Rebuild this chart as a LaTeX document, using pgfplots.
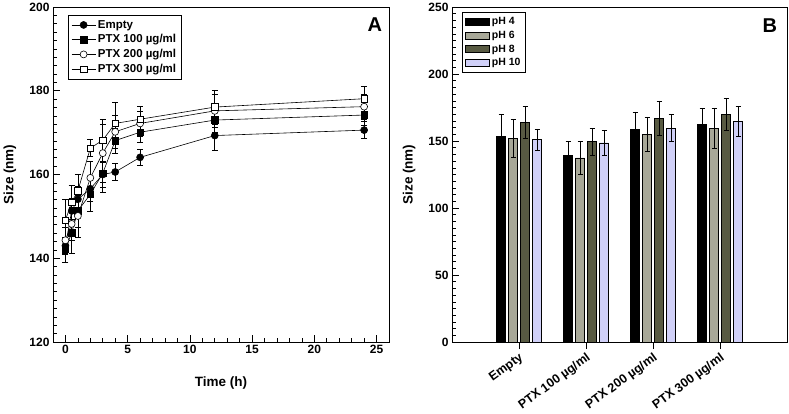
\documentclass[border=0pt]{standalone}
\usepackage{fontspec}
\setmainfont{Liberation Sans}
\usepackage{pgfplots}
\usepackage{pgfplotstable}
\pgfplotsset{compat=1.18}
\definecolor{phsix}{RGB}{168,168,152}
\definecolor{pheight}{RGB}{88,90,66}
\definecolor{phten}{RGB}{208,208,248}

\pgfplotstableread{
t y e
0 143.0 2
0.5 151.3 3
1 154.1 3
2 156.6 3
3 160.0 3
4 160.6 2
6 164.1 2
12 169.3 3.5
24 170.6 2
}\empty
\pgfplotstableread{
t y e
0 142.1 3
0.5 146.1 5
1 151.3 4
2 155.3 4
3 160.3 4.5
4 168.1 3
6 170.1 2.5
12 173.0 3
24 174.2 2.5
}\ptxa
\pgfplotstableread{
t y e
0 144.3 3
0.5 148.2 4
1 150.1 5
2 159.2 4
3 165.1 7
4 170.2 4
6 172.2 3
12 175.2 4
24 176.2 3
}\ptxb
\pgfplotstableread{
t y e
0 149.1 5
0.5 153.4 4
1 156.1 4
2 166.3 2
3 168.2 5
4 172.2 5
6 173.2 3
12 176.1 4
24 178.1 3
}\ptxc

\pgfplotstableread{
x y e
1 153.7 16.4
2 139.5 10
3 158.7 13
4 162.6 12
}\phfour
\pgfplotstableread{
x y e
1 152.0 14
2 137.5 12
3 155.0 13
4 159.7 15
}\phsixt
\pgfplotstableread{
x y e
1 164.0 12
2 149.7 10
3 166.9 13
4 169.9 12
}\pheightt
\pgfplotstableread{
x y e
1 151.0 8
2 148.7 9
3 159.7 10
4 164.6 11
}\phtent

\begin{document}
\begin{tikzpicture}[x=1pt,y=1pt]
\useasboundingbox (0,0) rectangle (789,413);
\begin{axis}[at={(53pt,71pt)}, anchor=south west, scale only axis,
  width=336pt, height=335pt,
  xmin=-1, xmax=26, ymin=120, ymax=200,
  xtick={0,5,...,25}, ytick={120,140,...,200},
  minor x tick num=4, minor y tick num=9,
  tick align=inside, xtick pos=bottom, ytick pos=left,
  major tick length=7pt, minor tick length=4pt,
  tick style={black, line width=0.6pt},
  ticklabel style={font=\bfseries\fontsize{12}{12}\selectfont},
  /pgf/number format/assume math mode=true,
  xlabel={Time (h)}, ylabel={Size (nm)},
  label style={font=\bfseries\fontsize{13.5}{13.5}\selectfont},
  xlabel style={at={(axis description cs:0.5,-0.122)}, anchor=center},
  ylabel style={at={(axis description cs:-0.128,0.5)}, anchor=center},
  axis line style={black, line width=0.7pt},
  legend style={at={(axis description cs:0.045,0.976)}, anchor=north west,
    font=\bfseries\fontsize{11.5}{16}\selectfont, draw=black, inner sep=3pt,
    row sep=1pt},
  legend cell align=left,
  legend image code/.code={%
    \draw[#1, mark=none] (0pt,0pt) -- (24pt,0pt);
    \draw[#1, only marks] plot coordinates {(12pt,0pt)};},
  every axis plot/.append style={black, line width=0.6pt},
  error bars/error bar style={black, line width=0.6pt},
  error bars/error mark options={rotate=90, mark size=3pt, black, line width=0.6pt},
]
\addplot[mark=*, mark size=3.5pt, mark options={fill=black},
  error bars/.cd, y dir=both, y explicit]
  table[x=t, y=y, y error=e] {\empty};
\addlegendentry{Empty}
\addplot[mark=square*, mark size=3.3pt, mark options={fill=black},
  error bars/.cd, y dir=both, y explicit]
  table[x=t, y=y, y error=e] {\ptxa};
\addlegendentry{PTX 100 µg/ml}
\addplot[mark=*, mark size=3.5pt, mark options={fill=white},
  error bars/.cd, y dir=both, y explicit]
  table[x=t, y=y, y error=e] {\ptxb};
\addlegendentry{PTX 200 µg/ml}
\addplot[mark=square*, mark size=3.3pt, mark options={fill=white},
  error bars/.cd, y dir=both, y explicit]
  table[x=t, y=y, y error=e] {\ptxc};
\addlegendentry{PTX 300 µg/ml}
\node[font=\bfseries\fontsize{20}{20}\selectfont] at (rel axis cs:0.958,0.946) {A};
\end{axis}

\begin{axis}[at={(452pt,71pt)}, anchor=south west, scale only axis,
  width=335pt, height=335pt,
  xmin=0, xmax=5, ymin=0, ymax=250,
  xtick={1,2,3,4},
  xticklabels={Empty, PTX 100 µg/ml, PTX 200 µg/ml, PTX 300 µg/ml},
  ytick={0,50,...,250}, minor y tick num=9,
  xtick pos=bottom, ytick pos=left,
  ytick align=inside, xtick align=outside,
  major tick length=7pt, minor tick length=4pt,
  tick style={black, line width=0.6pt},
  ticklabel style={font=\bfseries\fontsize{12}{12}\selectfont},
  xticklabel style={rotate=36, anchor=north east, inner sep=2pt, font=\bfseries\fontsize{12.5}{12.5}\selectfont},
  /pgf/number format/assume math mode=true,
  ylabel={Size (nm)},
  label style={font=\bfseries\fontsize{13.5}{13.5}\selectfont},
  ylabel style={at={(axis description cs:-0.128,0.5)}, anchor=center},
  axis line style={black, line width=0.7pt},
  legend style={at={(axis description cs:0.03,0.985)}, anchor=north west,
    font=\bfseries\fontsize{10.5}{15}\selectfont, draw=black, inner sep=3pt,
    row sep=1pt},
  legend cell align=left,
  ybar, bar width=9pt,
  legend image code/.code={\draw[#1, line width=0.6pt] (0pt,-3.5pt) rectangle (24pt,3.5pt);},
  error bars/error bar style={black, line width=0.6pt},
  error bars/error mark options={rotate=90, mark size=2.5pt, black, line width=0.6pt},
]
\addplot[fill=black, draw=black, bar shift=-18pt,
  error bars/.cd, y dir=both, y explicit]
  table[x=x, y=y, y error=e] {\phfour};
\addlegendentry{pH 4}
\addplot[fill=phsix, draw=black, bar shift=-6pt,
  error bars/.cd, y dir=both, y explicit]
  table[x=x, y=y, y error=e] {\phsixt};
\addlegendentry{pH 6}
\addplot[fill=pheight, draw=black, bar shift=6pt,
  error bars/.cd, y dir=both, y explicit]
  table[x=x, y=y, y error=e] {\pheightt};
\addlegendentry{pH 8}
\addplot[fill=phten, draw=black, bar shift=18pt,
  error bars/.cd, y dir=both, y explicit]
  table[x=x, y=y, y error=e] {\phtent};
\addlegendentry{pH 10}
\node[font=\bfseries\fontsize{20}{20}\selectfont] at (rel axis cs:0.949,0.943) {B};
\end{axis}
\end{tikzpicture}
\end{document}
